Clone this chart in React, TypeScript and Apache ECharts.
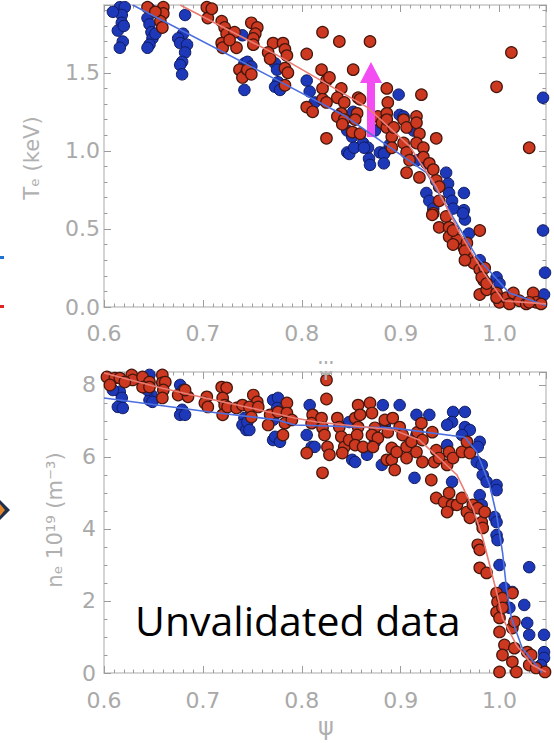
import React, { useEffect, useRef } from 'react';
import * as echarts from 'echarts';

// ---- Axis ranges / ticks ----
const PSI_MIN = 0.6;
const PSI_MAX = 1.047;
const PSI_STEP = 0.1;
const TE_MAX = 1.934;
const TE_STEP = 0.5;
const NE_MAX = 8.36;
const NE_STEP = 2;

// ---- Te panel (keV) ----
const TE_BLUE: number[][] = [
  [0.616,1.92],[0.621,1.92],[0.618,1.87],[0.618,1.82],[0.614,1.77],[0.619,1.70],[0.616,1.66],[0.609,1.89],[0.620,1.80],
  [0.646,1.91],[0.644,1.85],[0.646,1.81],[0.648,1.76],[0.649,1.72],[0.646,1.68],[0.644,1.66],[0.652,1.75],
  [0.682,1.87],[0.680,1.75],[0.675,1.72],[0.677,1.69],[0.684,1.68],[0.682,1.63],[0.679,1.57],[0.677,1.55],[0.679,1.49],
  [0.740,1.74],[0.742,1.56],[0.742,1.39],[0.745,1.57],[0.749,1.54],
  [0.773,1.56],[0.775,1.52],[0.776,1.44],[0.773,1.41],[0.778,1.39],
  [0.805,1.45],[0.808,1.38],[0.813,1.31],
  [0.852,1.25],[0.846,1.13],[0.851,1.09],[0.846,0.99],[0.862,1.05],[0.867,1.02],[0.874,1.13],[0.879,0.99],[0.884,0.99],[0.889,1.04],
  [0.848,0.98],[0.853,1.02],[0.863,1.02],[0.868,0.95],[0.869,0.91],[0.883,0.98],[0.883,0.92],
  [0.898,1.36],[0.899,1.23],[0.903,1.22],[0.913,1.13],[0.916,0.94],[0.926,0.92],
  [0.946,0.86],[0.948,0.79],[0.926,0.73],[0.929,0.68],[0.933,0.63],[0.949,0.73],[0.952,0.68],[0.964,0.73],[0.964,0.62],
  [0.965,0.56],[0.969,0.47],[0.953,0.63],[0.963,0.60],
  [0.980,0.30],[0.984,0.25],[0.997,0.19],[1.000,0.15],
  [1.044,1.34],[1.044,0.49],[1.046,0.22],[1.045,0.08],
];
const TE_RED: number[][] = [
  [0.644,1.92],[0.660,1.92],[0.660,1.88],[0.657,1.83],[0.659,1.79],[0.652,1.89],
  [0.704,1.92],[0.705,1.85],[0.709,1.91],
  [0.719,1.83],[0.722,1.79],[0.724,1.75],[0.732,1.76],[0.719,1.69],[0.720,1.66],[0.734,1.66],[0.737,1.52],[0.744,1.50],[0.740,1.47],[0.727,1.71],
  [0.749,1.82],[0.755,1.79],[0.753,1.75],[0.751,1.72],[0.751,1.68],[0.771,1.69],[0.781,1.69],[0.783,1.65],[0.785,1.61],[0.766,1.63],[0.768,1.59],
  [0.821,1.76],[0.838,1.70],[0.869,1.70],[0.805,1.62],[0.852,1.52],[0.820,1.52],[0.825,1.45],[0.828,1.47],[0.821,1.40],[0.840,1.40],
  [0.836,1.34],[0.843,1.31],[0.857,1.34],[0.859,1.33],[0.821,1.33],[0.825,1.31],[0.805,1.28],[0.811,1.25],[0.840,1.24],[0.836,1.22],
  [0.843,1.20],[0.841,1.17],[0.856,1.24],[0.854,1.20],[0.851,1.12],[0.859,1.11],[0.825,1.08],[0.877,1.22],[0.886,1.40],[0.887,1.31],
  [0.886,1.24],[0.881,1.18],[0.886,1.15],[0.891,1.09],[0.891,1.02],[0.783,1.53],[0.786,1.50],[0.745,1.52],[0.749,1.49],[0.783,1.42],
  [0.886,1.20],[0.893,1.15],[0.903,1.20],[0.906,1.15],[0.916,1.22],[0.916,1.18],[0.921,1.36],[0.919,1.11],[0.916,1.05],[0.923,1.02],
  [0.936,1.08],[0.903,1.05],[0.906,0.99],[0.909,0.94],[0.906,0.86],[0.919,0.83],[0.923,0.96],[0.929,0.92],[0.933,0.88],[0.936,0.81],
  [0.939,0.77],[0.933,0.60],[0.939,0.51],[0.946,0.58],[0.949,0.51],[0.949,0.45],[0.957,0.43],[0.964,0.38],[0.967,0.32],[0.980,0.49],
  [0.974,0.28],[0.980,0.24],[0.984,0.17],[0.980,0.08],[0.987,0.11],[0.997,0.09],[1.000,0.03],[1.007,0.06],[1.010,0.02],[1.014,0.09],
  [1.020,0.04],[1.027,0.02],[1.034,0.09],[1.037,0.03],[0.997,1.41],[1.012,1.63],[1.030,1.02],
  [0.939,0.68],[0.932,0.59],[0.953,0.49],[0.953,0.40],[0.967,0.41],[0.965,0.36],[0.965,0.30],[0.985,0.25],[0.982,0.19],[0.987,0.15],
  [0.997,0.06],[1.030,0.03],[1.042,0.02],
];
const TE_BLUE_FIT: number[][] = [
  [0.629,1.934],[0.775,1.453],[0.842,1.23],[0.926,0.86],[0.977,0.32],[1.010,0.09],[1.047,0.01],
];
const TE_RED_FIT: number[][] = [
  [0.677,1.934],[0.775,1.613],[0.866,1.28],[0.909,1.03],[0.936,0.77],[0.960,0.47],[0.984,0.22],[1.004,0.04],[1.047,0.02],
];
const ARROW: number[][] = [[0.870,1.088],[0.870,1.502]];

// ---- ne panel (10^19 m^-3) ----
const NE_BLUE: number[][] = [
  [0.616,7.81],[0.618,7.64],[0.614,7.39],[0.619,7.36],[0.609,7.86],[0.646,8.28],[0.648,7.72],[0.646,7.58],[0.649,7.53],[0.644,7.86],
  [0.677,8.00],[0.680,7.86],[0.679,7.31],[0.677,7.17],[0.682,7.17],[0.742,7.08],[0.740,6.89],[0.744,6.75],[0.771,7.58],[0.771,7.03],[0.771,6.47],
  [0.776,7.64],[0.775,7.36],[0.745,6.97],[0.747,6.75],[0.773,6.56],[0.778,6.42],[0.808,7.44],[0.805,6.61],[0.810,6.28],[0.813,6.28],
  [0.848,6.97],[0.851,5.92],[0.854,5.86],[0.866,6.06],[0.881,5.78],[0.882,7.44],[0.884,6.89],[0.874,6.42],
  [0.899,7.44],[0.916,7.17],[0.929,7.17],[0.953,7.25],[0.965,7.25],[0.952,6.97],[0.947,6.89],[0.965,6.83],[0.970,6.75],[0.962,6.61],
  [0.980,6.42],[0.978,6.28],[0.947,6.33],[0.916,6.61],[0.914,5.42],[0.952,5.31],[0.977,5.86],[0.982,5.78],[0.983,5.50],[0.987,5.31],
  [0.997,5.22],[0.997,5.08],[0.980,4.94],[0.982,4.67],[0.995,4.33],[0.997,4.19],[0.997,3.83],[0.998,3.69],[1.000,3.00],[1.030,2.94],
  [1.005,2.36],[1.013,2.25],[1.010,1.81],[1.025,1.89],[1.028,1.39],[1.030,1.06],[1.045,1.06],[1.045,0.58],[1.045,0.42],[1.042,0.22],
];
const NE_RED: number[][] = [
  [0.603,8.22],[0.611,8.19],[0.616,8.19],[0.628,8.28],[0.629,8.14],[0.639,8.22],[0.646,8.08],[0.659,8.28],[0.659,8.06],[0.662,8.08],
  [0.639,7.94],[0.646,7.94],[0.660,7.86],[0.659,7.64],[0.675,7.72],[0.685,7.67],[0.682,7.86],[0.719,7.94],[0.724,7.92],[0.704,7.67],
  [0.702,7.50],[0.705,7.39],[0.720,7.64],[0.722,7.44],[0.720,7.17],[0.725,7.39],[0.734,7.36],[0.740,7.44],[0.606,8.00],[0.621,8.08],
  [0.825,8.14],[0.825,7.61],[0.821,5.56],[0.751,7.72],[0.755,7.53],[0.747,7.39],[0.756,7.39],[0.749,7.11],[0.768,7.17],[0.766,6.89],
  [0.776,7.25],[0.785,7.50],[0.785,7.22],[0.783,6.94],[0.781,6.61],[0.790,7.03],[0.805,6.11],[0.811,7.17],[0.810,6.94],[0.820,7.08],
  [0.821,6.81],[0.823,6.61],[0.826,6.28],[0.828,6.06],[0.836,7.08],[0.838,6.83],[0.840,6.56],[0.843,6.28],[0.841,6.11],[0.848,6.47],
  [0.857,7.44],[0.854,7.08],[0.859,7.17],[0.857,6.83],[0.856,6.61],[0.854,6.33],[0.862,6.28],[0.869,7.50],[0.871,7.22],[0.874,6.81],
  [0.871,6.61],[0.877,6.53],[0.872,6.28],[0.884,7.03],[0.887,6.69],[0.891,6.25],[0.886,5.92],[0.891,5.92],
  [0.892,7.08],[0.899,6.83],[0.902,6.61],[0.896,6.14],[0.894,5.64],[0.906,6.28],[0.906,5.97],[0.911,6.42],[0.917,6.69],[0.921,6.94],
  [0.922,6.47],[0.916,6.14],[0.922,5.86],[0.932,6.69],[0.936,6.19],[0.934,5.86],[0.939,5.97],[0.949,6.14],[0.947,5.78],[0.953,5.97],
  [0.962,6.14],[0.967,6.42],[0.970,6.11],[0.931,5.36],[0.936,4.86],[0.944,4.75],[0.949,5.00],[0.952,4.67],[0.947,4.47],[0.957,4.67],
  [0.962,4.86],[0.967,4.47],[0.970,4.31],[0.973,4.67],[0.978,4.58],[0.982,4.19],[0.985,4.47],[0.983,4.03],[0.978,3.56],[0.980,3.42],
  [0.980,2.92],[0.987,2.78],[0.997,2.22],[0.998,1.97],[0.997,1.69],[1.000,1.53],[1.003,2.08],[1.003,1.81],[1.013,2.22],[1.000,1.14],
  [1.013,1.25],[1.015,1.42],[1.005,0.78],[1.003,0.50],[1.015,0.69],[1.013,0.31],[1.028,0.58],[1.032,0.50],[1.030,0.22],[1.037,0.14],
  [1.017,0.03],[1.046,0.03],[1.000,0.03],
];
const NE_BLUE_FIT: number[][] = [
  [0.600,7.64],[0.707,7.25],[0.775,7.03],[0.793,6.89],[0.894,6.80],[0.965,6.55],[0.977,6.14],[0.990,5.22],[0.997,4.39],
  [1.003,3.36],[1.007,2.36],[1.012,1.53],[1.023,0.69],[1.037,0.22],[1.043,0.0],
];
const NE_RED_FIT: number[][] = [
  [0.600,8.33],[0.657,7.92],[0.697,7.67],[0.744,7.39],[0.793,7.08],[0.815,6.97],[0.893,6.75],[0.919,6.47],[0.939,5.97],
  [0.957,5.50],[0.973,4.58],[0.983,3.75],[0.990,3.00],[0.997,2.25],[1.003,1.53],[1.017,0.78],[1.033,0.22],[1.047,0.03],
];

const LABEL_GRAY = '#a9a9a9';
const FRAME = '#c6c6c6';
const TICK = '#9c9c9c';
const FONT = 'DejaVu Sans';

const BLUE_STYLE = { color: '#1d39b9', borderColor: '#0f1a5e', borderWidth: 1, opacity: 1 };
const RED_STYLE = { color: '#cc3820', borderColor: '#45160c', borderWidth: 1.2, opacity: 1 };

function xAxis(gridIndex: number, position: 'top' | 'bottom', labels: boolean, margin: number) {
  return {
    type: 'value', gridIndex, position, min: PSI_MIN, max: PSI_MAX, interval: PSI_STEP,
    axisLine: { show: true, onZero: false, lineStyle: { color: FRAME, width: 1.5 } },
    axisTick: { show: true, inside: true, length: 7, lineStyle: { color: TICK, width: 1 } },
    minorTick: { show: true, splitNumber: 10, length: 3.5, lineStyle: { color: TICK, width: 1 } },
    splitLine: { show: false }, minorSplitLine: { show: false },
    axisLabel: {
      show: labels, margin, color: LABEL_GRAY, fontSize: 22, fontFamily: FONT,
      showMaxLabel: false, formatter: (v: number) => v.toFixed(1),
    },
  };
}
function yAxis(gridIndex: number, position: 'left' | 'right', labels: boolean, max: number, step: number,
  minor: number, digits: number, margin: number) {
  return {
    type: 'value', gridIndex, position, min: 0, max, interval: step,
    axisLine: { show: true, onZero: false, lineStyle: { color: FRAME, width: 1.5 } },
    axisTick: { show: true, inside: true, length: 7, lineStyle: { color: TICK, width: 1 } },
    minorTick: { show: true, splitNumber: minor, length: 3.5, lineStyle: { color: TICK, width: 1 } },
    splitLine: { show: false }, minorSplitLine: { show: false },
    axisLabel: {
      show: labels, margin, color: LABEL_GRAY, fontSize: 22, fontFamily: FONT,
      showMaxLabel: false, formatter: (v: number) => v.toFixed(digits),
    },
  };
}
function scatter(data: number[][], xi: number, yi: number, style: any, z: number) {
  return {
    type: 'scatter', xAxisIndex: xi, yAxisIndex: yi, data, symbol: 'circle', symbolSize: 11.5,
    itemStyle: style, z, silent: true,
  };
}
function fit(data: number[][], xi: number, yi: number, color: string) {
  return {
    type: 'line', xAxisIndex: xi, yAxisIndex: yi, data, symbol: 'none', showSymbol: false,
    lineStyle: { color, width: 1.6 }, z: 5, silent: true, clip: true,
  };
}

export default function App() {
  const ref = useRef<HTMLDivElement>(null);
  useEffect(() => {
    if (!ref.current) return;
    const chart = echarts.init(ref.current, undefined, { renderer: 'svg' });
    const option: any = {
      animation: false,
      backgroundColor: '#ffffff',
      grid: [
        { left: 104, top: 5, width: 442, height: 302 },
        { left: 104, top: 372, width: 442, height: 301 },
      ],
      xAxis: [
        xAxis(0, 'bottom', true, 15), xAxis(0, 'top', false, 8),
        xAxis(1, 'bottom', true, 16), xAxis(1, 'top', false, 8),
      ],
      yAxis: [
        yAxis(0, 'left', true, TE_MAX, TE_STEP, 5, 1, 4), yAxis(0, 'right', false, TE_MAX, TE_STEP, 5, 1, 4),
        yAxis(1, 'left', true, NE_MAX, NE_STEP, 4, 0, 8), yAxis(1, 'right', false, NE_MAX, NE_STEP, 4, 0, 8),
      ],
      series: [
        scatter(TE_BLUE, 0, 0, BLUE_STYLE, 2),
        scatter(TE_RED, 0, 0, RED_STYLE, 3),
        fit(TE_BLUE_FIT, 0, 0, '#4c6fe0'),
        fit(TE_RED_FIT, 0, 0, '#ea7b72'),
        {
          type: 'line', xAxisIndex: 0, yAxisIndex: 0, data: [], z: 10, silent: true,
          markLine: {
            silent: true, symbol: ['none', 'triangle'], symbolSize: [22, 21],
            label: { show: false }, emphasis: { disabled: true },
            lineStyle: { color: '#f24cf2', width: 8, type: 'solid', opacity: 1 },
            itemStyle: { color: '#f24cf2' },
            data: [[{ coord: ARROW[0] }, { coord: ARROW[1] }]],
          },
        },
        scatter(NE_BLUE, 2, 2, BLUE_STYLE, 2),
        scatter(NE_RED, 2, 2, RED_STYLE, 3),
        fit(NE_BLUE_FIT, 2, 2, '#4c6fe0'),
        fit(NE_RED_FIT, 2, 2, '#ea7b72'),
      ],
      graphic: [
        { type: 'text', x: 32, y: 158, rotation: Math.PI / 2, z: 20,
          style: { text: 'Tₑ (keV)', fill: '#b0b0b0', fontSize: 21, fontFamily: FONT, align: 'center', verticalAlign: 'middle' } },
        { type: 'text', x: 55, y: 520, rotation: Math.PI / 2, z: 20,
          style: { text: 'nₑ 10¹⁹ (m⁻³)', fill: '#b0b0b0', fontSize: 21, fontFamily: FONT, align: 'center', verticalAlign: 'middle' } },
        { type: 'text', x: 326, y: 355, z: 20,
          style: { text: 'ψ', fill: '#b0b0b0', fontSize: 24, fontFamily: FONT, align: 'center', verticalAlign: 'top' } },
        { type: 'rect', shape: { x: 290, y: 364, width: 80, height: 7 }, z: 21, style: { fill: '#ffffff' } },
        { type: 'text', x: 326, y: 715, z: 20,
          style: { text: 'ψ', fill: '#b0b0b0', fontSize: 24, fontFamily: FONT, align: 'center', verticalAlign: 'top' } },
        { type: 'text', x: 135, y: 620, z: 30,
          style: { text: 'Unvalidated data', fill: '#000000', fontSize: 41, fontFamily: 'Open Sans', align: 'left', verticalAlign: 'middle' } },
        { type: 'rect', shape: { x: 0, y: 256, width: 4, height: 3 }, z: 20, style: { fill: '#1f72d2' } },
        { type: 'rect', shape: { x: 0, y: 305, width: 4, height: 3 }, z: 20, style: { fill: '#e02424' } },
        { type: 'polygon', shape: { points: [[-10, 510], [0, 500], [10, 510], [0, 520]] }, z: 20, style: { fill: '#1f2f4d' } },
        { type: 'polygon', shape: { points: [[-6, 510], [0, 504], [5, 510], [0, 516]] }, z: 21, style: { fill: '#e0862a' } },
      ],
    };
    chart.setOption(option);
    return () => chart.dispose();
  }, []);
  return (
    <div ref={ref} style={{ position: 'fixed', left: 0, top: 0, width: 554, height: 743, background: '#fff' }} />
  );
}
